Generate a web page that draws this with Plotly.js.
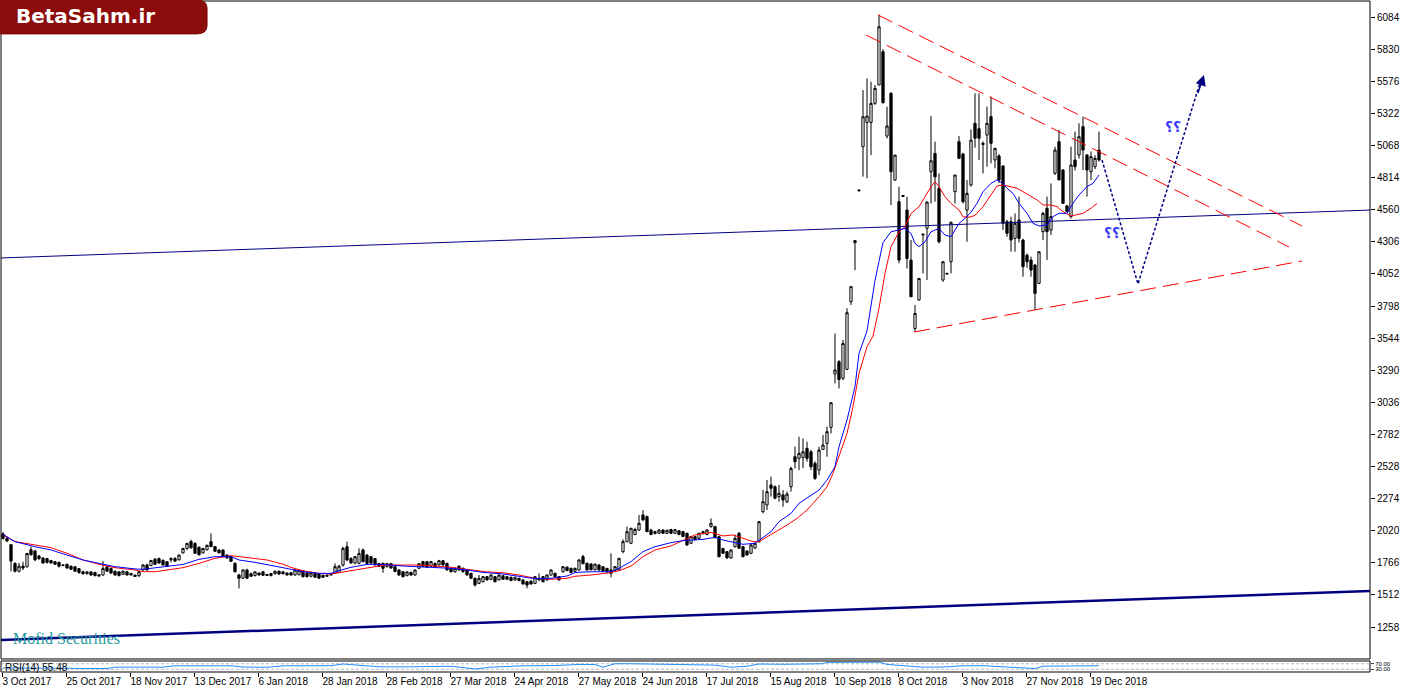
<!DOCTYPE html>
<html>
<head>
<meta charset="utf-8">
<script src="https://cdn.plot.ly/plotly-3.0.1.min.js"></script>
<style>html,body{margin:0;padding:0;background:#fff}#chart{width:1420px;height:693px}</style>
</head>
<body>
<div id="chart"></div>
<script>
// ---- Candles (daily bars, index 0..274) ----
const openP = [1995,1960,1910,1762,1700,1740,1735,1870,1860,1820,1805,1800,1785,1775,1770,1750,1755,1740,1735,1720,1695,1680,1695,1690,1672,1670,1735,1722,1700,1695,1675,1695,1682,1670,1665,1710,1750,1745,1795,1800,1785,1775,1790,1800,1790,1845,1880,1935,1920,1890,1845,1870,1934,1895,1868,1868,1828,1815,1762,1670,1645,1710,1680,1665,1685,1696,1675,1665,1680,1700,1695,1685,
1688,1670,1672,1705,1685,1660,1683,1678,1668,1660,1670,1683,1690,1749,1894,1800,1765,1762,1868,1828,1815,1800,1760,1762,1736,1760,1736,1710,1696,1665,1690,1670,1723,1776,1775,1740,1762,1750,1783,1762,1723,1696,1740,1723,1710,1683,1644,1604,1617,1657,1636,1657,1631,1664,1657,1650,1630,1644,1631,1617,1620,1604,1631,1657,1631,1670,1683,1657,1696,1732,1723,1700,
1710,1815,1763,1758,1712,1750,1736,1722,1710,1705,1710,1855,1934,1921,1990,2026,2145,2132,2026,2013,2000,2026,2000,2030,2000,2020,2013,2000,1921,1973,1960,2000,1990,2053,2053,1973,1880,1855,1805,1894,2000,1894,1860,1842,1883,1934,2171,
2224,2382,2368,2290,2303,2250,2368,2606,2593,2600,2672,2645,2553,2500,2664,2711,2838,3260,3357,3226,3297,3832,4299,
4715,5058,5250,5250,5401,5546,5809,5142,5480,4794,4623,4672,4557,4161,3620,3845,4360,4412,4860,5005,4728,4003,4056,4148,4702,5097,5000,4557,4755,5243,
5200,5075,5150,5296,4953,4985,4905,4465,4465,4333,4478,4320,4200,4162,4122,3977,4386,4571,4399,4847,5098,4874,4590,4505,4953,4993,5217,4993,4860,4900,5032];
const highP = [2010,1975,1915,1770,1765,1775,1845,1895,1870,1830,1810,1805,1790,1780,1775,1755,1760,1745,1740,1725,1705,1700,1700,1695,1678,1780,1745,1730,1705,1700,1705,1700,1688,1672,1700,1755,1760,1790,1805,1808,1795,1780,1810,1812,1830,1885,1925,1950,1930,1895,1885,1910,2000,1900,1872,1872,1832,1820,1770,1680,1715,1720,1690,1698,1690,1700,1678,1685,1705,1705,1700,1690,
1695,1715,1712,1710,1690,1690,1688,1682,1672,1672,1685,1762,1750,1894,1934,1810,1820,1881,1880,1835,1820,1805,1765,1768,1765,1766,1740,1715,1700,1700,1698,1712,1765,1782,1780,1780,1768,1790,1788,1768,1728,1728,1745,1730,1715,1688,1650,1670,1662,1662,1675,1662,1675,1668,1660,1660,1655,1648,1636,1622,1630,1662,1683,1662,1675,1715,1690,1662,1740,1738,1728,1728,
1795,1830,1768,1762,1760,1755,1740,1728,1842,1740,1805,1952,2053,2040,2045,2145,2184,2140,2035,2020,2030,2030,2030,2035,2035,2025,2018,2005,1980,1980,2005,2020,2032,2118,2060,1980,1885,1860,1872,1990,2010,1900,1865,1915,1925,2095,2342,
2422,2448,2380,2382,2342,2330,2527,2685,2764,2750,2725,2660,2570,2685,2778,2843,3033,3581,3370,3529,3780,3951,4320,
4720,5506,5598,5572,5546,6102,5830,5374,5490,4992,4741,4675,4662,4320,3805,4016,4370,4625,5300,5098,4847,4150,4060,4465,4834,5142,5010,4794,5195,5480,
5480,5100,5375,5454,5050,5000,4913,4480,4505,4530,4663,4330,4214,4188,4130,4230,4544,4663,4768,5058,5190,4880,4595,5058,5177,5243,5296,5000,5020,4990,5177];
const lowP = [1950,1930,1700,1690,1690,1710,1730,1825,1780,1790,1760,1760,1760,1750,1730,1740,1720,1710,1695,1680,1675,1675,1665,1660,1660,1665,1695,1680,1665,1660,1670,1668,1668,1655,1655,1705,1705,1740,1750,1760,1745,1735,1770,1775,1785,1840,1870,1880,1840,1825,1840,1865,1890,1855,1840,1815,1800,1775,1690,1564,1640,1640,1655,1660,1668,1665,1664,1660,1675,1672,1675,1666,
1665,1665,1668,1650,1650,1652,1648,1640,1648,1655,1665,1678,1685,1736,1780,1760,1755,1755,1770,1758,1760,1745,1735,1688,1730,1720,1692,1665,1650,1660,1665,1665,1718,1732,1728,1735,1732,1745,1745,1705,1690,1690,1705,1690,1665,1640,1578,1598,1612,1628,1630,1612,1628,1633,1632,1622,1628,1622,1595,1565,1596,1598,1625,1612,1625,1665,1652,1628,1690,1700,1685,1695,
1705,1755,1705,1708,1705,1706,1695,1684,1652,1700,1705,1842,1928,1915,1985,2020,2100,2010,1985,1990,1995,1998,1995,1996,1995,1985,1970,1900,1915,1945,1955,1990,1985,2045,1960,1810,1838,1800,1800,1888,1880,1810,1825,1835,1878,1925,2158,
2184,2290,2270,2250,2210,2240,2330,2513,2500,2515,2566,2500,2422,2461,2660,2606,2790,3186,3146,3212,3291,3806,4082,
4705,4821,4808,4992,5388,5546,5401,5124,4596,4790,4135,4660,4095,3870,3594,3840,4056,4003,4610,4623,4293,3990,4050,4056,4610,4960,4610,4306,4742,5050,
4953,4847,4900,4926,4887,4770,4400,4345,4227,4227,4300,4030,4100,4030,3766,3970,4320,4162,4360,4835,4795,4610,4545,4490,4870,4965,4874,4663,4795,4880,4940];
const closeP = [1960,1940,1780,1700,1740,1725,1840,1830,1790,1800,1765,1770,1765,1755,1740,1745,1725,1715,1700,1690,1680,1695,1670,1665,1662,1722,1700,1685,1670,1665,1700,1670,1670,1658,1696,1750,1710,1785,1755,1765,1750,1738,1800,1780,1828,1880,1920,1885,1842,1830,1880,1905,1895,1858,1845,1818,1805,1778,1696,1644,1710,1645,1660,1695,1670,1668,1666,1682,1700,1678,1680,1670,
1670,1710,1705,1657,1657,1686,1652,1645,1652,1668,1680,1736,1740,1881,1789,1765,1815,1841,1776,1762,1765,1750,1738,1723,1760,1725,1698,1670,1657,1694,1670,1710,1760,1738,1732,1776,1736,1783,1750,1710,1696,1723,1710,1696,1670,1644,1591,1644,1657,1631,1670,1617,1670,1636,1636,1626,1652,1626,1599,1591,1599,1657,1644,1617,1670,1710,1657,1631,1736,1705,1690,1723,
1789,1760,1710,1712,1756,1710,1700,1698,1684,1736,1802,1934,2013,2040,2030,2079,2105,2013,1990,2000,2026,2000,2024,2000,2028,1990,1975,1908,1975,1950,2000,2013,2026,2079,1965,1815,1842,1805,1868,1960,1882,1815,1828,1908,1921,2092,2250,
2329,2356,2277,2316,2263,2310,2513,2566,2632,2645,2593,2527,2435,2658,2698,2804,3033,3291,3217,3502,3745,3951,4315,
4710,5295,5300,5401,5519,6007,5406,5222,4860,4992,4161,4665,4174,3871,3739,4016,4365,4620,4947,4820,4306,4148,4052,4460,4834,4966,4623,4689,5110,5125,
5125,5085,5243,5085,5045,4795,4452,4373,4320,4452,4333,4109,4148,4082,3898,4227,4531,4386,4505,5032,4795,4610,4545,4913,4900,5137,5032,4874,4979,4966,4953];

// ---- Moving averages (bar index, price) ----
const blueMaBar = [0,3,8,12,16,20,24,28,33,35,37,41,45,49,53,57,59,63,66,70,72,75,79,82,84,87,91,95,100,104,108,112,116,120,125,129,133,137,141,143,147,152,154,157,160,163,167,170,173,175,178,180,183,185,188,189,192,194,197,199,202,204,206,208,209,211,213,214,216,217,218,219,220,222,224,225.5,227,228,229,230.5,232,234,235.5,237,238,239,240.5,242,243.5,245,247,248.5,250,251,252.5,254,256,257.5,259,261,262.5,264,266,267.5,269,271,272.5,274];
const blueMaVal = [1992,1934,1894,1868,1828,1789,1762,1736,1718,1715,1723,1736,1754,1794,1815,1815,1789,1770,1754,1728,1715,1696,1683,1683,1704,1731,1754,1754,1741,1736,1731,1723,1710,1691,1678,1657,1641,1644,1662,1690,1696,1696,1723,1776,1855,1894,1926,1942,1947,1952,1968,1947,1926,1913,1921,1945,2013,2092,2158,2237,2303,2342,2421,2527,2685,2896,3160,3423,3600,3800,4000,4150,4300,4385,4398,4412,4372,4293,4267,4306,4385,4412,4359,4346,4399,4451,4491,4540,4610,4702,4768,4795,4768,4729,4689,4610,4531,4452,4431,4439,4505,4531,4531,4610,4676,4742,4768,4834];
const redMaBar = [0,3,8,12,16,20,24,28,33,35,38,41,45,49,53,57,59,63,66,70,72,75,79,82,85.5,89,92,95.5,100,104,108,112,116,120.5,125,129,133,137,141,143,147,152,154,157,160,163,167,170,173,177,180,182.5,185,187.5,189,192.5,196,198.5,201,204,206,207.5,209,211,212.5,214,216,217.5,219,220.5,222,224,225.5,227,229,230.5,232,233,234,235.5,237,239,240,241.5,243,245,247,248.5,250,252,253.5,255,257,258.5,260,262,263.5,265,267,268.5,270,272,273.5];
const redMaVal = [1987,1934,1908,1886,1842,1789,1755,1728,1710,1696,1696,1710,1728,1762,1802,1823,1815,1802,1789,1755,1730,1704,1683,1678,1696,1715,1731,1749,1749,1749,1741,1731,1715,1696,1688,1670,1644,1636,1644,1660,1670,1689,1704,1741,1815,1868,1900,1942,1987,2008,1979,1987,1960,1934,1934,1999,2065,2118,2184,2289,2368,2474,2606,2790,3001,3265,3476,3560,3780,4056,4267,4385,4425,4530,4583,4662,4741,4781,4741,4662,4610,4557,4504,4500,4515,4584,4676,4747,4755,4742,4729,4702,4663,4637,4597,4597,4584,4544,4510,4518,4531,4571,4610];

// ---- RSI(14) read from the sub-window (bar index, value) ----
const rsiBar = [0,8,14,20,26,28,34,40,43,50,57,60,66,70,76,82,85,88,94,100,106,112,118,122,130,138,144,148,150,153,157,160,166,172,178,182,186,189,195,200,205,206,210,214,218,219,221,224,226,230,235,240,245,249,252,255,258,260,265,270,274];
const rsiVal = [40,38,35,36,35,45,46,45,55,54,55,46,44,55,54,56,68,60,48,47,50,52,32,45,55,57,65,64,45,70,70,68,62,63,60,45,52,68,66,68,70,80,80,78,80,82,65,58,50,45,46,55,56,48,43,36,35,52,55,56,55.48];

// ---- Tick labels ----
const dateLabels = ["3 Oct 2017","25 Oct 2017","18 Nov 2017","13 Dec 2017","6 Jan 2018","28 Jan 2018","28 Feb 2018","27 Mar 2018","24 Apr 2018","27 May 2018","24 Jun 2018","17 Jul 2018","15 Aug 2018","10 Sep 2018","8 Oct 2018","3 Nov 2018","27 Nov 2018","19 Dec 2018"];
const priceTicks = [1258,1512,1766,2020,2274,2528,2782,3036,3290,3544,3798,4052,4306,4560,4814,5068,5322,5576,5830,6084];

// ---- Drawing objects (bar index, price) ----
const longSupportBars = [-0.5, 341.75], longSupportPrices = [4178, 4557];
const baseTrendBars = [-0.5, 341.75], baseTrendPrices = [1156, 1544];
const upper1Bars = [218.75, 324.75], upper1Prices = [6100, 4431];
const upper2Bars = [215.75, 321.5], upper2Prices = [5942, 4265];
const lowerBars = [227.75, 324.75], lowerPrices = [3592, 4154];
const scenarioBars = [274.75, 283.75, 299.5], scenarioPrices = [4953, 3972, 5590];

const idx = openP.map((_, i) => i);
const tickPos = dateLabels.map((_, k) => 16 * k - 0.25);

const navy = '#000080';
const axisFont = {family:'Liberation Sans', size:10, color:'#000'};
const traces = [
  {type:'scatter', mode:'lines', x:longSupportBars, y:longSupportPrices, line:{color:navy,width:1}, hoverinfo:'skip'},
  {type:'scatter', mode:'lines', x:baseTrendBars, y:baseTrendPrices, line:{color:navy,width:2.5}, hoverinfo:'skip'},
  {type:'candlestick', x:idx, open:openP, high:highP, low:lowP, close:closeP,
   increasing:{line:{color:'#000',width:1}, fillcolor:'#ffffff'},
   decreasing:{line:{color:'#000',width:1}, fillcolor:'#000000'},
   whiskerwidth:0},
  {type:'scatter', mode:'lines', x:redMaBar, y:redMaVal, line:{color:'#ff0000',width:1}},
  {type:'scatter', mode:'lines', x:blueMaBar, y:blueMaVal, line:{color:'#0000ff',width:1}},
  {type:'scatter', mode:'lines', x:upper1Bars, y:upper1Prices, line:{color:'#ff0000',width:1,dash:'16px,7px'}},
  {type:'scatter', mode:'lines', x:upper2Bars, y:upper2Prices, line:{color:'#ff0000',width:1,dash:'16px,7px'}},
  {type:'scatter', mode:'lines', x:lowerBars, y:lowerPrices, line:{color:'#ff0000',width:1,dash:'16px,7px'}},
  {type:'scatter', mode:'lines', x:scenarioBars, y:scenarioPrices, line:{color:navy,width:1.5,dash:'3px,2px'}},
  {type:'scatter', mode:'lines', x:[-0.5,341.75], y:[70,70], yaxis:'y2', line:{color:'#b8b8b8',width:1,dash:'3px,2px'}},
  {type:'scatter', mode:'lines', x:[-0.5,341.75], y:[30,30], yaxis:'y2', line:{color:'#b8b8b8',width:1,dash:'3px,2px'}},
  {type:'scatter', mode:'lines', x:rsiBar, y:rsiVal, xaxis:'x', yaxis:'y2', line:{color:'#1e90ff',width:1}}
];

const mainBottom = 0.0194, rsiTop = 0.0164;
const layout = {
  width:1420, height:693,
  margin:{l:1, r:50, t:1, b:21},
  paper_bgcolor:'#fff', plot_bgcolor:'#fff',
  showlegend:false,
  boxgap:0.2,
  font:{family:'Liberation Sans', size:10, color:'#000'},
  xaxis:{range:[-0.5,341.75], anchor:'y2', showgrid:false, zeroline:false,
         rangeslider:{visible:false}, automargin:false,
         tickmode:'array', tickvals:tickPos, ticktext:dateLabels, tickangle:0,
         ticks:'outside', ticklen:4, tickcolor:'#000',
         ticklabelposition:'outside right',
         tickfont:axisFont, showline:false},
  yaxis:{domain:[mainBottom,1], range:[1005.8,6210.6], side:'right', anchor:'x',
         showgrid:false, zeroline:false, tickmode:'array', tickvals:priceTicks,
         ticktext:priceTicks.map(String), ticks:'outside', ticklen:4, tickcolor:'#000',
         automargin:false, tickfont:axisFont},
  yaxis2:{domain:[0,rsiTop], range:[10,90], side:'right', anchor:'x', automargin:false,
          showgrid:false, zeroline:false, tickmode:'array', tickvals:[30,70],
          ticktext:['30.00','70.00'], ticks:'outside', ticklen:3,
          tickfont:{family:'Liberation Sans', size:6, color:'#000'}},
  shapes:[
    {type:'rect', xref:'paper', yref:'paper', x0:0, x1:1, y0:mainBottom, y1:1, line:{color:'#000',width:1}},
    {type:'rect', xref:'paper', yref:'paper', x0:0, x1:1, y0:0, y1:rsiTop, line:{color:'#000',width:1}},
    {type:'path', xref:'paper', yref:'paper',
     path:'M -0.001,1.0015 L 0.143,1.0015 Q 0.1505,1.0015 0.1505,0.99 L 0.1505,0.963 Q 0.1505,0.951 0.143,0.951 L -0.001,0.951 Z',
     fillcolor:'#8c0c0c', line:{color:'#7a0808',width:1}}
  ],
  annotations:[
    {xref:'paper', yref:'paper', x:0.0095, y:0.977, xanchor:'left', yanchor:'middle', showarrow:false,
     text:'<b>BetaSahm.ir</b>', font:{family:'DejaVu Sans', size:20, color:'#ffffff'}},
    {xref:'paper', yref:'paper', x:0.0075, y:0.0492, xanchor:'left', yanchor:'middle', showarrow:false,
     text:'Mofid Securities', font:{family:'Liberation Serif', size:16, color:'#1f9a9e'}},
    {xref:'paper', yref:'paper', x:0.0015, y:0.006, xanchor:'left', yanchor:'middle', showarrow:false,
     text:'RSI(14) 55.48', font:{family:'Liberation Sans', size:10, color:'#000'}},
    {x:277.25, y:4375, xref:'x', yref:'y', showarrow:false, text:'<b>؟؟</b>',
     font:{family:'DejaVu Sans', size:14, color:'#3a3aff'}},
    {x:292.5, y:5214, xref:'x', yref:'y', showarrow:false, text:'<b>؟؟</b>',
     font:{family:'DejaVu Sans', size:14, color:'#3a3aff'}},
    {x:300.25, y:5625, xref:'x', yref:'y', axref:'x', ayref:'y', ax:298.6, ay:5470,
     showarrow:true, arrowhead:2, arrowsize:1.4, arrowwidth:1.5, arrowcolor:navy, text:''}
  ]
};

Plotly.newPlot('chart', traces, layout, {staticPlot:true, displayModeBar:false});
</script>
</body>
</html>
